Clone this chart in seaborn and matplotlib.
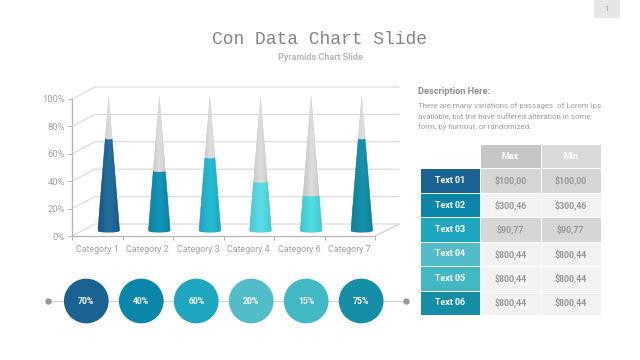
import numpy as np
import matplotlib
matplotlib.use("Agg")
from matplotlib import pyplot as plt
from matplotlib.colors import LinearSegmentedColormap, ListedColormap
from matplotlib.path import Path
from matplotlib.patches import Rectangle
import seaborn as sns

categories = ["Category 1", "Category 2", "Category 3", "Category 4", "Category 6", "Category 7"]
values = [68, 44, 54, 36, 26, 68]
full = [100, 100, 100, 100, 100, 100]
cone_dark = ["#14568a", "#0a7fa3", "#1ba3bf", "#45c8d2", "#3cc8d0", "#0d7f98"]
cone_light = ["#24719f", "#1297ba", "#27bdd6", "#5cdfe6", "#52dde4", "#1793ae"]

circle_labels = ["70%", "40%", "60%", "20%", "15%", "75%"]
circle_colors = ["#1a6291", "#0a86ab", "#1ea6c1", "#52bdc9", "#41b8c4", "#168da6"]

table_rows = ["Text 01", "Text 02", "Text 03", "Text 04", "Text 05", "Text 06"]
table_max = ["$100,00", "$300,46", "$90,77", "$800,44", "$800,44", "$800,44"]
table_min = ["$100,00", "$300,46", "$90,77", "$800,44", "$800,44", "$800,44"]

sns.set_theme(style="white")
plt.rcParams["font.family"] = ["Roboto", "DejaVu Sans"]
GREY = "#a3a3a3"


def px_axes(left, top, right, bottom):
    # axes placed with reference pixel coordinates
    a = fig.add_axes([left / 640, 1 - bottom / 360, (right - left) / 640, (bottom - top) / 360])
    a.patch.set_alpha(0)
    return a


fig = plt.figure(figsize=(6.4, 3.6), dpi=100, facecolor="white")

# page overlay, for the slide texts and the 3d walls
page = px_axes(0, 0, 640, 360)
page.set_xlim(0, 640)
page.set_ylim(360, 0)
page.axis("off")
page.add_patch(Rectangle((594, 0), 26, 18, color="#e6e6e6", lw=0))
page.text(607, 9, "1", ha="center", va="center", fontsize=5.5, color="#999999")
page.text(320, 40, "Con Data Chart Slide", ha="center", va="center", fontsize=13,
          family="Liberation Mono", color="#858585")
page.text(320, 57, "Pyramids Chart Slide", ha="center", va="center", fontsize=6.5,
          fontweight="bold", color="#b8b8b8")
page.text(418, 92, "Description Here:", ha="left", va="center", fontsize=6.7,
          fontweight="bold", color="#8f8f8f")
for y, line in zip([106, 116.5, 127], ["There are many variations of passages  of Lorem Ips",
                                       "available, but the have suffered alteration in some",
                                       "form, by humour, or randomized."]):
    page.text(418, y, line, ha="left", va="center", fontsize=5.7, color="#a0a0a0")

# back wall and floor
for t in range(6):
    yf = 236 - t * 27.4
    yb = 224 - t * 27.4
    page.plot([72, 95, 399], [yf, yb, yb], color="#dcdcdc", lw=0.9)
page.plot([375, 399], [236, 224], color="#cfcfcf", lw=0.9)

# front axes, holds the ticks
front = px_axes(72, 99, 375, 236)
sns.despine(ax=front)
front.set_xlim(-0.5, 5.5)
front.set_ylim(0, 100)
front.set_yticks([0, 20, 40, 60, 80, 100])
front.set_yticklabels(["0%", "20%", "40%", "60%", "80%", "100%"])
front.set_xticks(np.arange(6))
front.set_xticklabels(categories)
front.set_xticks(np.arange(-0.5, 6), minor=True)
front.tick_params(axis="x", which="major", length=0, labelsize=6.4, labelcolor=GREY, pad=6.5)
front.tick_params(axis="x", which="minor", length=3, width=0.8, color="#b5b5b5", bottom=True)
front.tick_params(axis="y", length=3, width=0.8, color="#b5b5b5", left=True, labelsize=6.8,
                  labelcolor=GREY, pad=2)
for s in ["left", "bottom"]:
    front.spines[s].set_color("#b5b5b5")
    front.spines[s].set_linewidth(0.9)

# cones, drawn as bars then clipped to the cone shape
cones = px_axes(83.4, 95, 387, 234.8)
sns.barplot(x=categories, y=full, color="#cfcfcf", width=0.435, saturation=1, ax=cones)
sns.barplot(x=categories, y=values, hue=categories, palette=cone_dark, width=0.435,
            saturation=1, legend=False, ax=cones)
cones.set_xlim(-0.5, 5.5)
cones.set_ylim(-3, 100)
cones.axis("off")

bars = cones.patches
for n, bar in enumerate(bars):
    x0, w, h = bar.get_x(), bar.get_width(), bar.get_height()
    mid = x0 + w / 2
    t = np.linspace(np.pi, 2 * np.pi, 24)
    arc = np.column_stack([mid + w / 2 * np.cos(t), 1.3 * np.sin(t)])
    if n < 6:
        verts = np.vstack([arc, [[mid, 100]], arc[:1]])
        cmap = LinearSegmentedColormap.from_list("g", ["#bcbcbc", "#dedede", "#c2c2c2"])
        top = h
    else:
        k = n - 6
        # the cut of the cone, with a slight curve, from right to left
        half = w / 2 * (1 - h / 100)
        s = np.linspace(0, np.pi, 12)
        cut = np.column_stack([mid + half * np.cos(s), h - 0.7 * np.sin(s)])
        verts = np.vstack([arc, cut, arc[:1]])
        cmap = LinearSegmentedColormap.from_list("c", [cone_dark[k], cone_light[k], cone_dark[k]])
        top = h + 1
    clip = Path(verts, closed=True)
    im = cones.imshow(np.linspace(0, 1, 32)[None, :], extent=(x0, x0 + w, -3, top), aspect="auto",
                      cmap=cmap, origin="lower", zorder=3 if n < 6 else 4)
    im.set_clip_path(clip, transform=cones.transData)
    bar.set_clip_path(clip, transform=cones.transData)
cones.set_xlim(-0.5, 5.5)
cones.set_ylim(-3, 100)

# timeline of circles
line = px_axes(48, 270, 405.7, 332)
pos = np.arange(len(circle_labels))
line.plot([-0.696, 5.81], [0, 0], color="#d5d5d5", lw=0.9, zorder=1)
line.plot([-0.696, 5.81], [0, 0], ls="", marker="o", ms=3.6, color="#999999", clip_on=False, zorder=2)
sns.scatterplot(x=pos, y=[0] * 6, hue=circle_labels, palette=circle_colors, s=1036, linewidth=0,
                legend=False, clip_on=False, zorder=3, ax=line)
for i, lab in zip(pos, circle_labels):
    line.text(i, 0, lab, ha="center", va="center", fontsize=6.2, fontweight="bold",
              color="white", zorder=4)
line.set_xlim(-0.696, 5.81)
line.set_ylim(-1, 1)
line.axis("off")

# table, a heatmap of colour indexes with the strings as annotations
cell_colors = ["#ffffff", "#c6c6c6", "#d9d9d9", "#d6d6d6", "#f2f2f2"] + circle_colors
idx = [[0, 1, 2],
       [5, 3, 3],
       [6, 4, 4],
       [7, 3, 3],
       [8, 4, 4],
       [9, 4, 4],
       [10, 4, 4]]
annot = [["", "Max", "Min"]] + [list(r) for r in zip(table_rows, table_max, table_min)]
tab = px_axes(420, 144, 601, 315)
sns.heatmap(idx, annot=np.array(annot), fmt="", cmap=ListedColormap(cell_colors), vmin=-0.5,
            vmax=len(cell_colors) - 0.5, cbar=False, linewidths=0.7, linecolor="white",
            xticklabels=False, yticklabels=False,
            annot_kws={"fontsize": 6.4, "fontweight": "bold"}, ax=tab)
for txt, (r, c) in zip(tab.texts, [(r, c) for r in range(7) for c in range(3)]):
    txt.set_color("white" if r == 0 or c == 0 else "#979797")

fig.savefig("out.png", dpi=100)
